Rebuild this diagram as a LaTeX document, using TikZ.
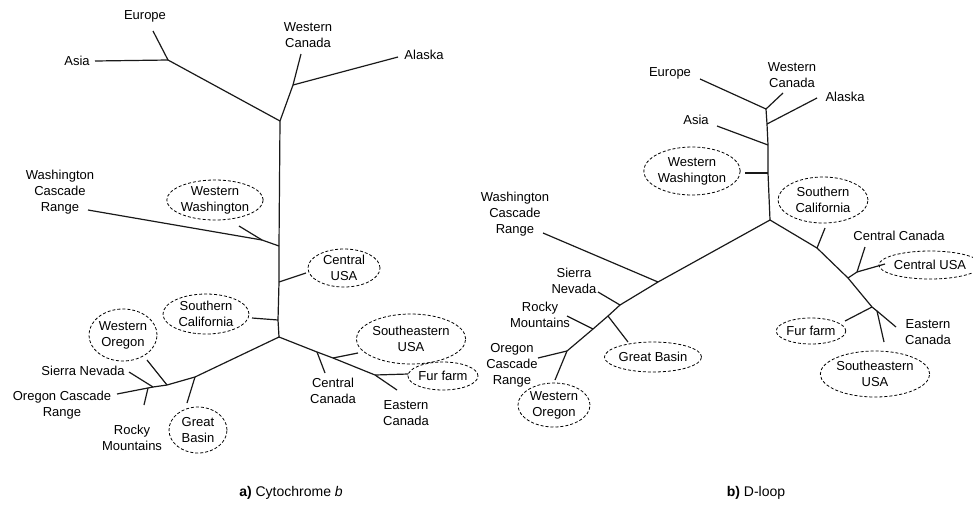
\documentclass[tikz,border=0pt]{standalone}
\usepackage{fontspec}
\setmainfont{Liberation Sans}
\usetikzlibrary{shapes.geometric}
\begin{document}
\begin{tikzpicture}[x=1pt,y=-1pt,
  lab/.style={align=center,font=\fontsize{13}{16}\selectfont,inner sep=0pt},
  oval/.style={ellipse,draw,line width=0.8pt,dash pattern=on 3pt off 2pt,inner sep=0pt,align=center,font=\fontsize{13}{16}\selectfont},
  br/.style={line width=1.2pt,black!90,line join=round},
  captxt/.style={font=\fontsize{14}{16}\selectfont,inner sep=0pt}]
\useasboundingbox (0,0) rectangle (973,504);

% ---------- tree a ----------
\node[lab] (aEur) at (145,16) {Europe};
\node[lab] (aAsia) at (77,61) {Asia};
\node[lab] (aWCan) at (308,35) {Western\\Canada};
\node[lab] (aAla) at (424,55) {Alaska};
\node[lab] (aWCR) at (60,192) {Washington\\Cascade\\Range};
\node[oval,minimum width=94,minimum height=40] (aWW) at (215,200) {Western\\Washington};
\node[oval,minimum width=72,minimum height=38] (aCUSA) at (344,268) {Central\\USA};
\node[oval,minimum width=86,minimum height=40] (aSCal) at (206,314) {Southern\\California};
\node[oval,minimum width=68,minimum height=52] (aWOr) at (123,335) {Western\\Oregon};
\node[lab] (aSN) at (83,371) {Sierra Nevada};
\node[lab] (aOCR) at (62,405) {Oregon Cascade\\Range};
\node[lab] (aRM) at (132,438) {Rocky\\Mountains};
\node[oval,minimum width=58,minimum height=46] (aGB) at (198,430) {Great\\Basin};
\node[oval,minimum width=100,minimum height=50] (aSEUSA) at (411,339) {Southeastern\\USA};
\node[oval,minimum width=70,minimum height=28] (aFur) at (443,376) {Fur farm};
\node[lab] (aCCan) at (333,391) {Central\\Canada};
\node[lab] (aECan) at (406,413) {Eastern\\Canada};

\coordinate (aJ1) at (168,60);
\coordinate (aJ3) at (293,85);
\coordinate (aJ2) at (280,121);
\coordinate (aJww) at (262,240);
\coordinate (aJwcr) at (279,246);
\coordinate (aJcusa) at (279,282);
\coordinate (aJscal) at (278,320);
\coordinate (aJB) at (279,337);
\coordinate (aJgb) at (195,377);
\coordinate (aJwo) at (167,385);
\coordinate (aJsn) at (153,387);
\coordinate (aJrm) at (148,388);
\coordinate (aCCj) at (317,352);
\coordinate (aSEj) at (333,358);
\coordinate (aFj) at (375,375);

\coordinate (aEurE) at (153,31);
\coordinate (aAsiaE) at (95,61);
\coordinate (aWCanE) at (301,54);
\coordinate (aAlaE) at (398,57);
\coordinate (aWCRE) at (88,210);
\coordinate (aWWE) at (239,226);
\coordinate (aCUSAE) at (306,273);
\coordinate (aSCalE) at (252,318);
\coordinate (aWOE) at (147,360);
\coordinate (aSNE) at (129,372);
\coordinate (aRME) at (144,405);
\coordinate (aOCRE) at (117,394);
\coordinate (aGBE) at (187,403);
\coordinate (aCCE) at (325,373);
\coordinate (aSEE) at (358,353);
\coordinate (aFE) at (408,374);
\coordinate (aECE) at (397,390);

\draw[br] (aEurE) -- (aJ1);
\draw[br] (aAsiaE) -- (aJ1);
\draw[br] (aJ1) -- (aJ2);
\draw[br] (aWCanE) -- (aJ3);
\draw[br] (aAlaE) -- (aJ3);
\draw[br] (aJ3) -- (aJ2);
\draw[br] (aJ2) -- (aJwcr) -- (aJcusa) -- (aJscal) -- (aJB);
\draw[br] (aWCRE) -- (aJww) -- (aJwcr);
\draw[br] (aWWE) -- (aJww);
\draw[br] (aCUSAE) -- (aJcusa);
\draw[br] (aSCalE) -- (aJscal);
\draw[br] (aJB) -- (aJgb) -- (aJwo) -- (aJsn) -- (aOCRE);
\draw[br] (aGBE) -- (aJgb);
\draw[br] (aWOE) -- (aJwo);
\draw[br] (aSNE) -- (aJsn);
\draw[br] (aRME) -- (aJrm);
\draw[br] (aJB) -- (aCCj) -- (aSEj) -- (aFj) -- (aECE);
\draw[br] (aCCj) -- (aCCE);
\draw[br] (aSEj) -- (aSEE);
\draw[br] (aFj) -- (aFE);

\node[captxt] (capA) at (291,493) {\textbf{a)} Cytochrome \textit{b}};

% ---------- tree b ----------
\node[lab] (bEur) at (670,73) {Europe};
\node[lab] (bWCan) at (792,75) {Western\\Canada};
\node[lab] (bAla) at (845,97) {Alaska};
\node[lab] (bAsia) at (696,120) {Asia};
\node[oval,minimum width=86,minimum height=48] (bWW) at (692,171) {Western\\Washington};
\node[oval,minimum width=90,minimum height=46] (bSCal) at (823,200) {Southern\\California};
\node[lab] (bWCR) at (515,214) {Washington\\Cascade\\Range};
\node[lab] (bCCan) at (899,236) {Central Canada};
\node[oval,minimum width=84,minimum height=28] (bCUSA) at (930,265) {Central USA};
\node[lab] (bSN) at (574,281) {Sierra\\Nevada};
\node[lab] (bRM) at (540,315) {Rocky\\Mountains};
\node[oval,minimum width=92,minimum height=30] (bGB) at (653,357) {Great Basin};
\node[lab] (bOCR) at (512,365) {Oregon\\Cascade\\Range};
\node[oval,minimum width=72,minimum height=44] (bWO) at (554,405) {Western\\Oregon};
\node[oval,minimum width=68,minimum height=26] (bFur) at (811,331) {Fur farm};
\node[lab] (bECan) at (928,332) {Eastern\\Canada};
\node[oval,minimum width=94,minimum height=46] (bSEUSA) at (875,374) {Southeastern\\USA};

\coordinate (bJE) at (766,109);
\coordinate (bJA) at (767,124);
\coordinate (bJasia) at (768,145);
\coordinate (bJww) at (768,173);
\coordinate (bJR) at (770,220);
\coordinate (bJsc) at (817,248);
\coordinate (bJcc) at (848,278);
\coordinate (bJcc2) at (857,272);
\coordinate (bJf) at (872,307);
\coordinate (bJse) at (877,311);
\coordinate (bJwcr) at (658,282);
\coordinate (bJsn) at (620,305);
\coordinate (bJgb) at (608,316);
\coordinate (bJrm) at (593,329);
\coordinate (bJoc) at (567,351);

\coordinate (bEurE) at (700,79);
\coordinate (bWCanE) at (783,93);
\coordinate (bAlaE) at (817,98);
\coordinate (bAsiaE) at (717,126);
\coordinate (bWWE) at (745,173);
\coordinate (bSCE) at (825,228);
\coordinate (bCCE) at (865,247);
\coordinate (bCUE) at (885,264);
\coordinate (bFE) at (845,321);
\coordinate (bSEE) at (884,342);
\coordinate (bECE) at (896,327);
\coordinate (bWCRE) at (543,233);
\coordinate (bSNE) at (598,292);
\coordinate (bRME) at (567,316);
\coordinate (bGBE) at (628,342);
\coordinate (bOCRE) at (538,358);
\coordinate (bWOE) at (555,380);

\draw[br] (bEurE) -- (bJE);
\draw[br] (bWCanE) -- (bJE);
\draw[br] (bAlaE) -- (bJA);
\draw[br] (bAsiaE) -- (bJasia);
\draw[br] (bWWE) -- (bJww);
\draw[br] (bJE) -- (bJA) -- (bJasia) -- (bJww) -- (bJR);
\draw[br] (bJR) -- (bJsc) -- (bJcc) -- (bJf) -- (bJse) -- (bECE);
\draw[br] (bSCE) -- (bJsc);
\draw[br] (bJcc) -- (bJcc2) -- (bCCE);
\draw[br] (bJcc2) -- (bCUE);
\draw[br] (bFE) -- (bJf);
\draw[br] (bJse) -- (bSEE);
\draw[br] (bJR) -- (bJwcr) -- (bJsn) -- (bJgb) -- (bJrm) -- (bJoc) -- (bWOE);
\draw[br] (bWCRE) -- (bJwcr);
\draw[br] (bSNE) -- (bJsn);
\draw[br] (bRME) -- (bJrm);
\draw[br] (bGBE) -- (bJgb);
\draw[br] (bOCRE) -- (bJoc);

\node[captxt] (capB) at (756,493) {\textbf{b)} D-loop};
\end{tikzpicture}
\end{document}
